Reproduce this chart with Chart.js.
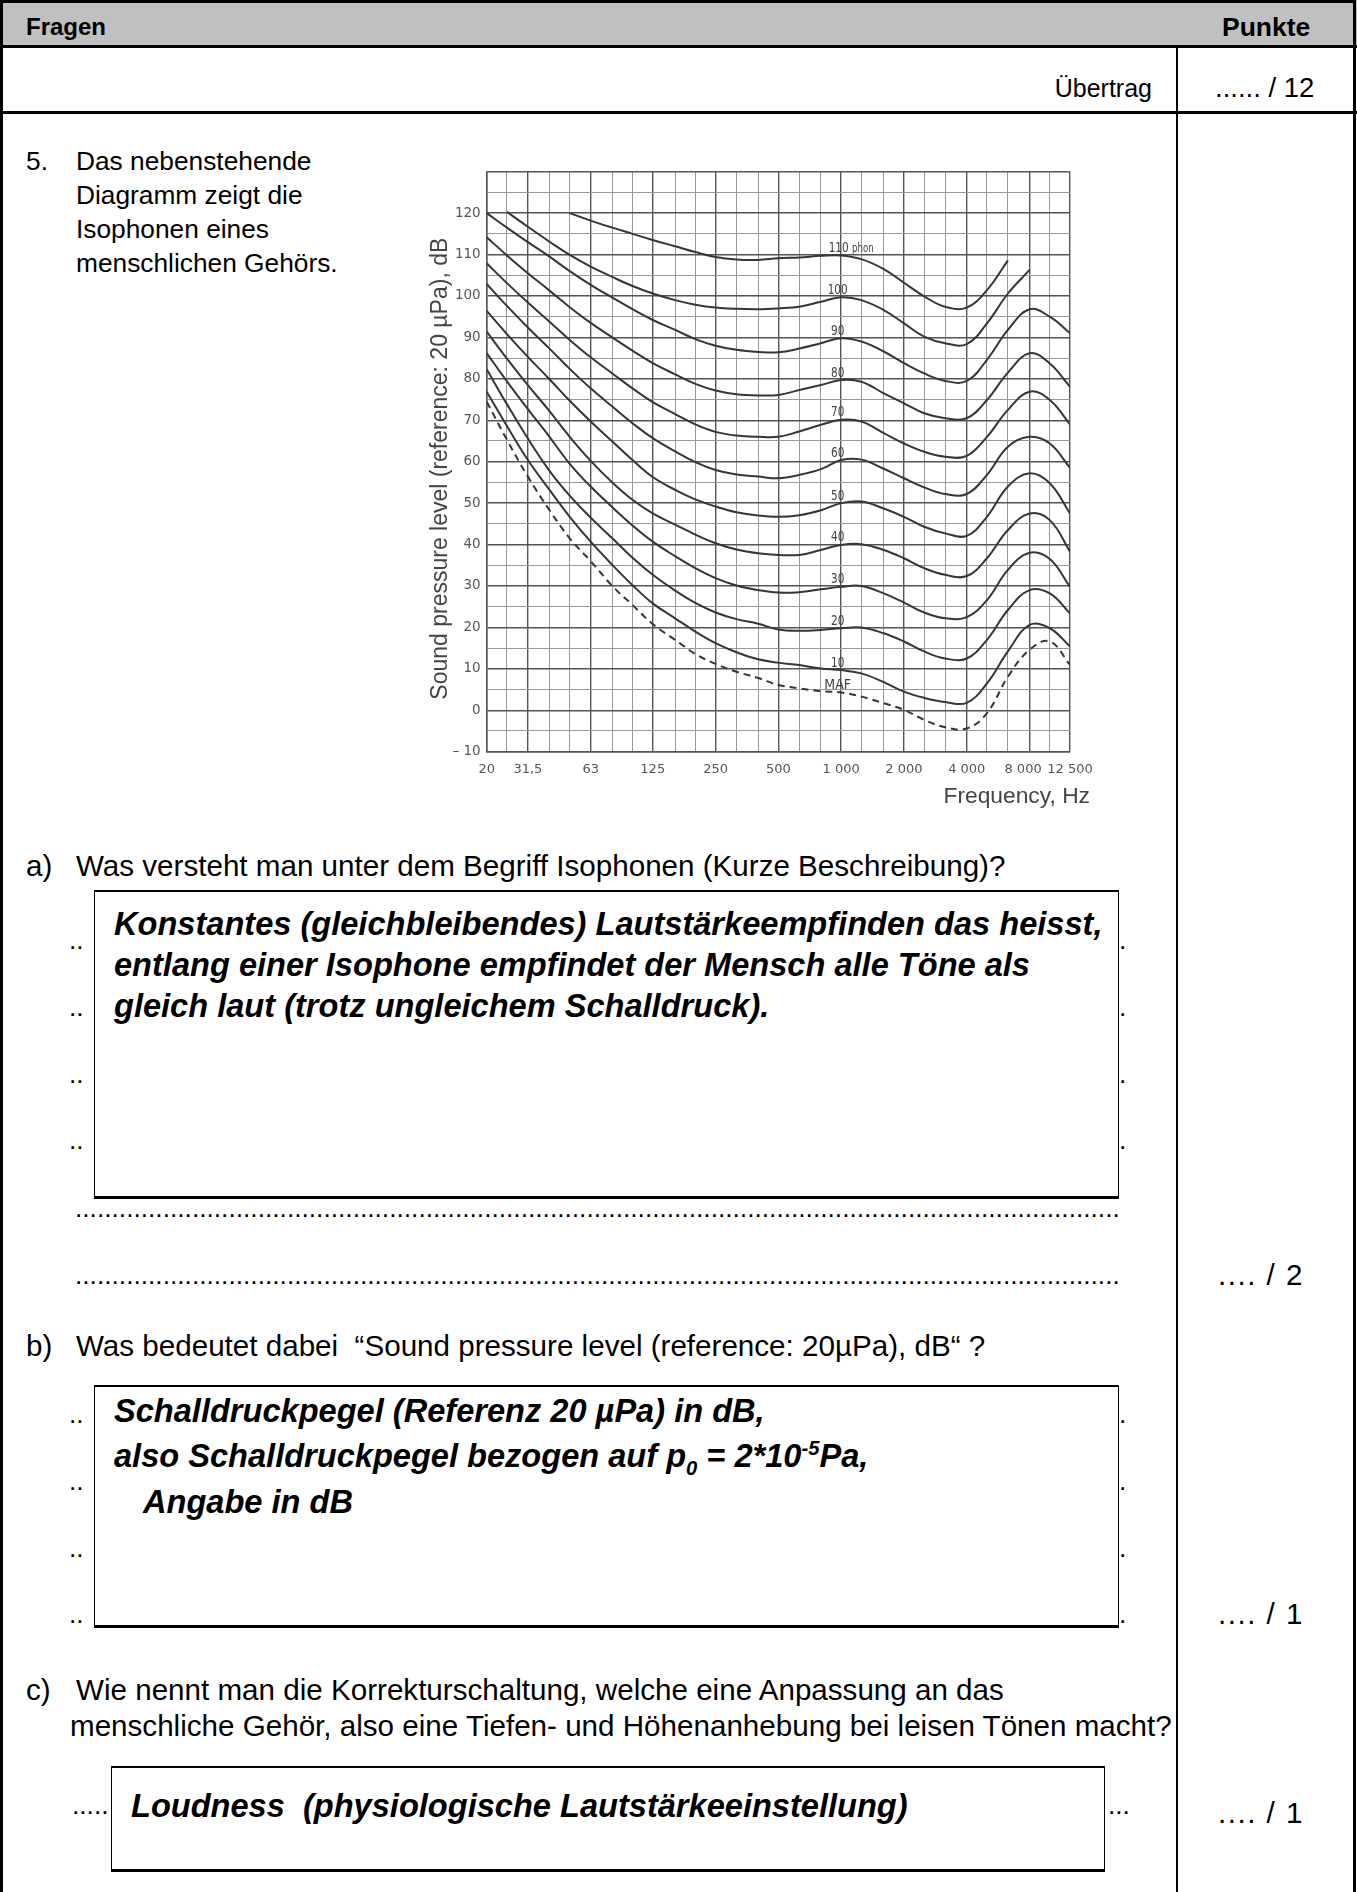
<!DOCTYPE html>
<html lang="de">
<head>
<meta charset="utf-8">
<title>Isophonen</title>
<script src="https://cdn.jsdelivr.net/npm/chart.js@4.4.1/dist/chart.umd.min.js"></script>
<style>
  html, body { margin: 0; padding: 0; background: #fff; }
  body {
    width: 1357px; height: 1892px; position: relative; overflow: hidden;
    font-family: "Liberation Sans", Arial, sans-serif; font-size: 26.3px; color: #000;
  }
  .t { position: absolute; white-space: nowrap; line-height: 32px; }
  .q { font-size: 29.6px; }
  .h { font-size: 24px; font-weight: bold; }
  .ans { font-weight: bold; font-style: italic; font-size: 32.6px; }
  .box { position: absolute; background: #fff; box-sizing: border-box;
         border: 1.5px solid #000; border-top-width: 2px; border-bottom-width: 3px; }
  .line { position: absolute; background: #000; }
  .dots { position: absolute; white-space: nowrap; line-height: 32px; }
  sub, sup { font-size: 62%; line-height: 0; }
  #frame { position: absolute; left: 0; top: 0; width: 1356px; height: 1900px;
           box-sizing: border-box; border: 3px solid #000; }
  #head { position: absolute; left: 0; top: 0; width: 1357px; height: 47px; background: #c0c0c0; }
  #chartBox { position: absolute; left: 400px; top: 150px; width: 710px; height: 680px; }
</style>
</head>
<body>

<div id="head"></div>
<div id="frame"></div>
<div class="line" style="left:0; top:45px; width:1357px; height:3px;"></div>
<div class="line" style="left:0; top:111px; width:1357px; height:3px;"></div>
<div class="line" style="left:1176px; top:47px; width:2px; height:1845px;"></div>

<div class="t h" style="left:26px; top:11px;">Fragen</div>
<div class="t h" style="left:1222px; top:11px; font-size:26.5px;">Punkte</div>
<div class="t" style="right:205px; top:72px; font-size:25px;">Übertrag</div>
<div class="t" style="left:1215px; top:72px; font-size:27.5px;">...... / 12</div>

<div class="t" style="left:26px; top:145px;">5.</div>
<div class="t" style="left:76px; top:145px;">Das nebenstehende</div>
<div class="t" style="left:76px; top:179px;">Diagramm zeigt die</div>
<div class="t" style="left:76px; top:213px;">Isophonen eines</div>
<div class="t" style="left:76px; top:247px;">menschlichen Gehörs.</div>

<div id="chartBox"><canvas id="isoChart" width="710" height="680"></canvas></div>

<!-- a) -->
<div class="t q" style="left:26px; top:850px;">a)</div>
<div class="t q" style="left:76px; top:850px;">Was versteht man unter dem Begriff Isophonen (Kurze Beschreibung)?</div>
<div class="dots" style="left:69px; top:924px;" data-n="2"></div>
<div class="dots" style="left:1119px; top:924px;" data-n="1"></div>
<div class="dots" style="left:69px; top:991px;" data-n="2"></div>
<div class="dots" style="left:1119px; top:991px;" data-n="1"></div>
<div class="dots" style="left:69px; top:1058px;" data-n="2"></div>
<div class="dots" style="left:1119px; top:1058px;" data-n="1"></div>
<div class="dots" style="left:69px; top:1124px;" data-n="2"></div>
<div class="dots" style="left:1119px; top:1124px;" data-n="1"></div>
<div class="dots" style="left:75px; top:1192px;" data-n="143"></div>
<div class="dots" style="left:75px; top:1259px;" data-n="143"></div>
<div class="box" style="left:94px; top:890px; width:1025px; height:309px;"></div>
<div class="t ans" style="left:114px; top:908px;">Konstantes (gleichbleibendes) Lautstärkeempfinden das heisst,</div>
<div class="t ans" style="left:114px; top:949px;">entlang einer Isophone empfindet der Mensch alle Töne als</div>
<div class="t ans" style="left:114px; top:990px;">gleich laut (trotz ungleichem Schalldruck).</div>
<div class="t q" style="left:1218px; top:1259px; letter-spacing:1.5px;">.... / 2</div>

<!-- b) -->
<div class="t q" style="left:26px; top:1330px;">b)</div>
<div class="t q" style="left:76px; top:1330px;">Was bedeutet dabei&nbsp; “Sound pressure level (reference: 20µPa), dB“ ?</div>
<div class="dots" style="left:69px; top:1398px;" data-n="2"></div>
<div class="dots" style="left:1119px; top:1398px;" data-n="1"></div>
<div class="dots" style="left:69px; top:1465px;" data-n="2"></div>
<div class="dots" style="left:1119px; top:1465px;" data-n="1"></div>
<div class="dots" style="left:69px; top:1532px;" data-n="2"></div>
<div class="dots" style="left:1119px; top:1532px;" data-n="1"></div>
<div class="dots" style="left:69px; top:1598px;" data-n="2"></div>
<div class="dots" style="left:1119px; top:1598px;" data-n="1"></div>
<div class="box" style="left:94px; top:1385px; width:1025px; height:243px;"></div>
<div class="t ans" style="left:114px; top:1395px;">Schalldruckpegel (Referenz 20 µPa) in dB,</div>
<div class="t ans" style="left:114px; top:1440px;">also Schalldruckpegel bezogen auf p<sub>0</sub> = 2*10<sup>-5</sup>Pa,</div>
<div class="t ans" style="left:143px; top:1486px;">Angabe in dB</div>
<div class="t q" style="left:1218px; top:1598px; letter-spacing:1.5px;">.... / 1</div>

<!-- c) -->
<div class="t q" style="left:26px; top:1674px;">c)</div>
<div class="t q" style="left:76px; top:1674px;">Wie nennt man die Korrekturschaltung, welche eine Anpassung an das</div>
<div class="t q" style="left:70px; top:1710px;">menschliche Gehör, also eine Tiefen- und Höhenanhebung bei leisen Tönen macht?</div>
<div class="dots" style="left:72px; top:1789px;" data-n="5"></div>
<div class="dots" style="left:1108px; top:1789px;" data-n="3"></div>
<div class="box" style="left:111px; top:1766px; width:994px; height:106px;"></div>
<div class="t ans" style="left:131px; top:1790px;">Loudness&nbsp; (physiologische Lautstärkeeinstellung)</div>
<div class="t q" style="left:1218px; top:1797px; letter-spacing:1.5px;">.... / 1</div>

<script>
document.querySelectorAll('.dots').forEach(function (el) {
    el.textContent = '.'.repeat(Number(el.dataset.n));
});

// third-octave frequencies (Hz)
const freqs = [20, 25, 31.5, 40, 50, 63, 80, 100, 125, 160, 200, 250, 315, 400, 500, 630,
               800, 1000, 1250, 1600, 2000, 2500, 3150, 4000, 5000, 6300, 8000, 10000, 12500];

// sound pressure level in dB for each isophone
const phon110 = [null, null, null, null, 120, 118.2, 116.5, 115.0, 113.5, 112.0, 110.6, 109.4, 108.8, 108.7, 109.1, 109.3,
                 109.7, 109.8, 108.9, 106.5, 103.2, 99.9, 97.4, 97.2, 101.4, 108.6, null, null, null];
const phon100 = [null, 120.3, 116.7, 113.1, 109.9, 107.1, 104.6, 102.4, 100.6, 99.0, 97.9, 97.2, 96.9, 96.8, 97.0, 97.4,
                 98.6, 99.7, 99.0, 96.6, 93.4, 90.2, 88.6, 88.4, 93.4, 100.6, 106.3, null, null];
const phon90 = [120, 116.5, 113.0, 109.5, 106.0, 102.7, 99.6, 96.8, 94.2, 91.8, 89.6, 88.0, 87.0, 86.5, 86.4, 87.3,
                88.6, 89.8, 89.0, 86.6, 83.8, 81.3, 79.5, 79.5, 84.6, 91.8, 96.8, 95.0, 91.0];
const phon80 = [114.2, 109.8, 105.5, 101.3, 97.3, 93.5, 90.0, 86.8, 83.8, 81.1, 78.8, 77.2, 76.3, 76.0, 76.1, 77.3,
                78.5, 79.7, 79.3, 76.5, 74.1, 71.7, 70.5, 70.5, 74.9, 81.5, 86.2, 83.7, 78.1];
const phon70 = [107.9, 103.1, 98.4, 93.8, 89.4, 85.2, 81.3, 77.7, 74.4, 71.5, 69.0, 67.2, 66.3, 66.0, 66.0, 67.3,
                68.9, 70.1, 69.7, 66.9, 64.4, 62.4, 61.2, 61.4, 66.0, 72.5, 76.9, 74.9, 69.0];
const phon60 = [102.9, 97.6, 92.4, 87.3, 82.4, 77.7, 73.3, 69.3, 65.7, 62.5, 59.9, 58.0, 56.9, 56.4, 56.0, 56.8,
                58.2, 60.4, 60.5, 58.3, 56.0, 53.8, 52.2, 52.2, 56.8, 63.6, 66.0, 64.4, 58.5];
const phon50 = [96.4, 90.8, 85.3, 79.9, 74.7, 69.7, 64.9, 60.4, 56.3, 53.2, 50.9, 49.2, 47.8, 47.0, 46.7, 47.1,
                48.3, 50.0, 50.4, 48.7, 46.7, 44.3, 42.7, 42.1, 46.7, 54.0, 57.2, 54.8, 47.5];
const phon40 = [91.4, 84.9, 78.5, 72.2, 66.0, 60.2, 55.0, 50.8, 47.5, 44.8, 42.4, 40.3, 38.8, 37.9, 37.5, 37.5,
                38.7, 39.9, 40.1, 38.7, 36.7, 34.3, 32.7, 32.4, 36.7, 43.5, 47.5, 45.9, 38.3];
const phon30 = [86.2, 79.4, 72.7, 66.0, 59.5, 54.0, 49.0, 44.6, 40.7, 37.2, 34.3, 31.9, 30.1, 29.0, 28.4, 28.5,
                29.2, 29.8, 30.0, 28.2, 26.0, 23.6, 22.2, 22.5, 26.6, 33.9, 38.0, 36.5, 29.8];
const phon20 = [82.3, 73.9, 65.6, 57.8, 51.8, 46.5, 41.5, 36.8, 32.7, 28.9, 25.9, 23.6, 22.0, 20.9, 19.5, 19.2,
                19.4, 19.8, 20.0, 18.6, 16.6, 14.2, 12.5, 12.5, 17.0, 24.2, 29.0, 28.2, 23.4];
const phon10 = [76.9, 68.6, 60.4, 53.2, 46.7, 40.7, 35.1, 30.2, 25.8, 22.2, 19.0, 16.2, 14.0, 12.3, 11.5, 10.9,
                10.1, 9.7, 8.9, 6.8, 4.5, 3.0, 2.0, 1.8, 6.5, 14.2, 20.6, 19.8, 15.4];
const maf = [74.5, 65.3, 56.4, 48.3, 41.5, 36.0, 30.0, 25.4, 20.8, 17.0, 13.6, 11.2, 9.3, 7.8, 6.1, 5.3,
             4.6, 4.3, 3.3, 1.7, 0.1, -2.3, -4.1, -4.4, -0.7, 8.1, 14.6, 16.6, 11.0];

const curveNames = ['110 phon', '100', '90', '80', '70', '60', '50', '40', '30', '20', '10', 'MAF'];
const curveValues = [phon110, phon100, phon90, phon80, phon70, phon60, phon50, phon40, phon30, phon20, phon10, maf];

// labelled frequencies on the x axis
const labelFreqs = [20, 31.5, 63, 125, 250, 500, 1000, 2000, 4000, 8000, 12500];
const labelTexts = ['20', '31,5', '63', '125', '250', '500', '1 000', '2 000', '4 000', '8 000\u2003', '12 500'];

const datasets = curveValues.map(function (vals, i) {
    return {
        label: curveNames[i],
        data: freqs.map((f, j) => ({ x: f, y: vals[j] })).filter(p => p.y !== null),
        borderColor: '#363636',
        borderWidth: 2,
        borderDash: curveNames[i] === 'MAF' ? [7, 5] : [],
        pointRadius: 0,
        tension: 0.4,
        fill: false
    };
});

// phon numbers at 1 kHz plus both axis titles
const curveLabels = {
    id: 'curveLabels',
    afterDatasetsDraw(chart) {
        const ctx = chart.ctx;
        const xs = chart.scales.x, ys = chart.scales.y, area = chart.chartArea;
        const k = freqs.indexOf(1000);
        const px = xs.getPixelForValue(1000);
        ctx.save();
        ctx.fillStyle = '#444';
        ctx.textBaseline = 'alphabetic';
        curveNames.forEach(function (name, i) {
            const py = ys.getPixelForValue(curveValues[i][k]) - 3.5;
            ctx.save();
            if (name === '110 phon') {
                ctx.translate(px - 12.5, py);
                ctx.scale(0.75, 1);
                ctx.textAlign = 'left';
                ctx.font = '14px "DejaVu Sans"';
                ctx.fillText('110', 0, 0);
                const w = ctx.measureText('110 ').width;
                ctx.font = '11.5px "DejaVu Sans"';
                ctx.fillText('phon', w, 0);
            } else {
                ctx.translate(px - 3.5, py);
                ctx.scale(name === 'MAF' ? 0.9 : 0.75, 1);
                ctx.textAlign = 'center';
                ctx.font = '14px "DejaVu Sans"';
                ctx.fillText(name, 0, 0);
            }
            ctx.restore();
        });
        ctx.fillStyle = '#444';
        ctx.font = '22.8px "Liberation Sans"';
        ctx.textAlign = 'right';
        ctx.textBaseline = 'middle';
        ctx.fillText('Frequency, Hz', area.right + 20, area.bottom + 45);

        ctx.translate(area.left - 46, (area.top + area.bottom) / 2 + 7);
        ctx.rotate(-Math.PI / 2);
        ctx.textAlign = 'center';
        ctx.font = '23px "Liberation Sans"';
        ctx.fillText('Sound pressure level (reference: 20 µPa), dB', 0, 0);
        ctx.restore();
    }
};

const ctx1 = document.getElementById('isoChart').getContext('2d');
const isoChart = new Chart(ctx1, {
    type: 'line',
    data: { datasets: datasets },
    options: {
        responsive: false,
        animation: false,
        devicePixelRatio: 1,
        layout: { padding: { left: 24, right: 40, top: 21.7, bottom: 28.3 } },
        plugins: {
            legend: { display: false },
            tooltip: { enabled: false }
        },
        scales: {
            x: {
                type: 'logarithmic',
                min: 20,
                max: 12500,
                afterBuildTicks: function (scale) {
                    scale.ticks = freqs.map(v => ({ value: v }));
                },
                afterFit: function (scale) { scale.height = 50; },
                grid: {
                    drawTicks: false,
                    color: c => (c.tick && labelFreqs.includes(c.tick.value)) ? '#555' : '#999',
                    lineWidth: c => (c.tick && labelFreqs.includes(c.tick.value)) ? 1.4 : 1
                },
                border: { color: '#555', width: 1.5 },
                ticks: {
                    autoSkip: false,
                    maxRotation: 0,
                    padding: 10,
                    color: '#555',
                    font: { family: 'DejaVu Sans', size: 13 },
                    callback: function (value) {
                        const i = labelFreqs.indexOf(value);
                        return i >= 0 ? labelTexts[i] : '';
                    }
                }
            },
            y: {
                min: -10,
                max: 130,
                afterFit: function (scale) { scale.width = 62.7; },
                grid: {
                    drawTicks: false,
                    color: c => (c.tick && c.tick.value % 10 === 0) ? '#555' : '#999',
                    lineWidth: c => (c.tick && c.tick.value % 10 === 0) ? 1.4 : 1
                },
                border: { color: '#555', width: 1.5 },
                ticks: {
                    stepSize: 5,
                    autoSkip: false,
                    padding: 6,
                    color: '#555',
                    font: { family: 'DejaVu Sans', size: 13.5 },
                    callback: function (value) {
                        if (value % 10 !== 0 || value > 120) return '';
                        return value < 0 ? '\u2013 ' + Math.abs(value) : String(value);
                    }
                }
            }
        }
    },
    plugins: [curveLabels]
});
</script>
</body>
</html>
